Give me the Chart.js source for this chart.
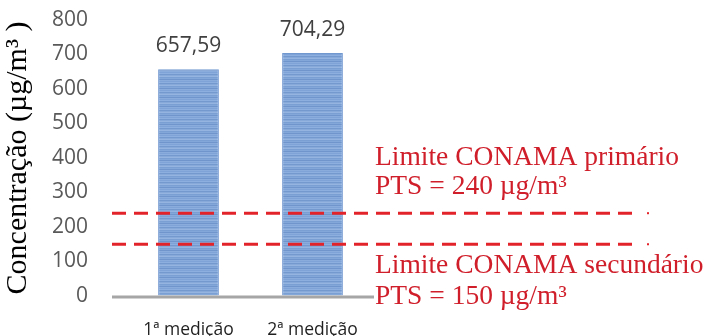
<!DOCTYPE html>
<html>
<head>
<meta charset="utf-8">
<script src="https://cdn.jsdelivr.net/npm/chart.js@4.4.1/dist/chart.umd.min.js"></script>
<style>
  html, body { margin: 0; padding: 0; background: #fff; }
  canvas { display: block; }
</style>
</head>
<body>
<canvas id="pts-chart" width="705" height="336"></canvas>
<script>
// Concentração de PTS por medição
const medicoes = ['1ª medição', '2ª medição'];
const concentracao = [657.59, 704.29];
const rotulosValor = ['657,59', '704,29'];
const yTicks = [0, 100, 200, 300, 400, 500, 600, 700, 800];

// limites CONAMA (µg/m³)
const limites = [
    {valor: 240, linhas: ['Limite CONAMA primário', 'PTS = 240 µg/m³'], acima: true},
    {valor: 150, linhas: ['Limite CONAMA secundário', 'PTS = 150 µg/m³'], acima: false}
];

// listras horizontais nas barras
function barPattern() {
    const c = document.createElement('canvas');
    c.width = 4;
    c.height = 9;
    const g = c.getContext('2d');
    const cores = ['#7fa3d6', '#8cafdf', '#7399cf', '#86a9da', '#95b5e0', '#7a9fd3', '#83a7d9', '#6f95cc', '#89acdc'];
    cores.forEach((cor, i) => {
        g.fillStyle = cor;
        g.fillRect(0, i, 4, 1);
    });
    return g.createPattern(c, 'repeat');
}

const ctx = document.getElementById('pts-chart');

// linha do eixo, limites tracejados, rótulos de valor
const extras = {
    id: 'extras',
    afterDatasetsDraw(chart) {
        const c = chart.ctx;
        const y = chart.scales.y;
        const x = chart.scales.x;

        // linha base cinza
        c.save();
        c.strokeStyle = '#a6a6a6';
        c.lineWidth = 3;
        c.beginPath();
        c.moveTo(112, y.getPixelForValue(0) + 1);
        c.lineTo(374, y.getPixelForValue(0) + 1);
        c.stroke();
        c.restore();

        // rótulos de valor
        c.save();
        c.fillStyle = '#404040';
        c.font = '21px "Open Sans"';
        c.textAlign = 'center';
        c.textBaseline = 'middle';
        concentracao.forEach((v, i) => {
            c.fillText(rotulosValor[i], x.getPixelForValue(i), y.getPixelForValue(v) - 23);
        });
        c.restore();

        // limites
        limites.forEach(lim => {
            const py = y.getPixelForValue(lim.valor);
            c.save();
            c.strokeStyle = '#e2232a';
            c.lineWidth = 3;
            c.setLineDash([14, 8]);
            c.beginPath();
            c.moveTo(112, py);
            c.lineTo(640, py);
            c.stroke();
            c.setLineDash([]);
            c.fillStyle = '#e2232a';
            c.fillRect(647, py - 1, 2, 2);

            c.fillStyle = '#d01f2b';
            c.font = '27.5px "Liberation Serif"';
            c.textAlign = 'left';
            c.textBaseline = 'middle';
            if (lim.acima) {
                c.fillText(lim.linhas[0], 375, py - 55);
                c.fillText(lim.linhas[1], 375, py - 26);
            } else {
                c.fillStyle = '#fff';
                c.fillRect(374, py + 40, 190, 28);
                c.fillStyle = '#d01f2b';
                c.fillText(lim.linhas[0], 375, py + 22);
                c.fillText(lim.linhas[1], 375, py + 53);
            }
            c.restore();
        });
    }
};

new Chart(ctx, {
    type: 'bar',
    data: {
        labels: medicoes,
        datasets: [{
            data: concentracao,
            backgroundColor: barPattern(),
            borderColor: '#7198cf',
            borderWidth: 1,
            barPercentage: 0.49,
            categoryPercentage: 1
        }]
    },
    options: {
        responsive: false,
        animation: false,
        layout: {padding: {top: 20, right: 330.5, left: 0, bottom: 0}},
        plugins: {
            legend: {display: false},
            tooltip: {enabled: false}
        },
        scales: {
            x: {
                grid: {display: false},
                border: {display: false},
                ticks: {color: '#1f1f1f', font: {family: 'Open Sans', size: 17.5}, padding: 16},
                afterFit(scale) { scale.height = 40; }
            },
            y: {
                min: 0,
                max: 800,
                afterBuildTicks(scale) { scale.ticks = yTicks.map(v => ({value: v})); },
                // marcas invisíveis só para afastar os rótulos do eixo
                grid: {display: true, drawOnChartArea: false, drawTicks: true, tickLength: 37, color: 'rgba(0,0,0,0)'},
                border: {display: false},
                ticks: {color: '#595959', font: {family: 'Open Sans', size: 21}, padding: 1.5},
                title: {
                    display: true,
                    text: 'Concentração (µg/m³ )',
                    color: '#000',
                    font: {family: 'Liberation Serif', size: 30},
                    padding: 0
                },
                afterFit(scale) { scale.width = 126.5; }
            }
        }
    },
    plugins: [extras]
});
</script>
</body>
</html>
